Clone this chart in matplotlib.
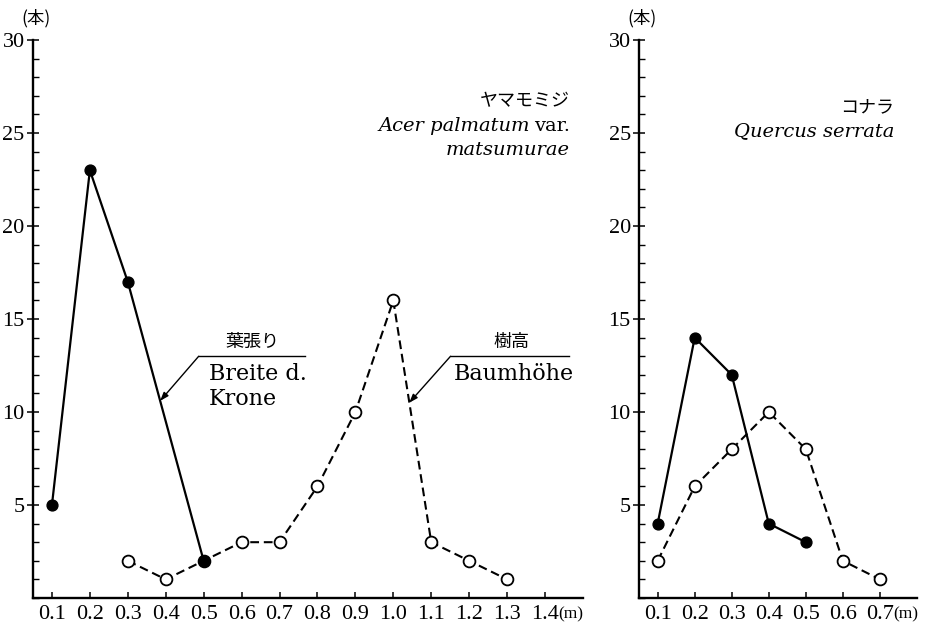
import matplotlib
matplotlib.use("Agg")
import matplotlib.pyplot as plt
from matplotlib.ticker import MultipleLocator

# ヤマモミジ (Acer palmatum var. matsumurae)
acer_crown_x = [0.1, 0.2, 0.3, 0.5]
acer_crown_n = [5, 23, 17, 2]
acer_height_x = [0.3, 0.4, 0.5, 0.6, 0.7, 0.8, 0.9, 1.0, 1.1, 1.2, 1.3]
acer_height_n = [2, 1, 2, 3, 3, 6, 10, 16, 3, 2, 1]

# コナラ (Quercus serrata)
quercus_crown_x = [0.1, 0.2, 0.3, 0.4, 0.5]
quercus_crown_n = [4, 14, 12, 4, 3]
quercus_height_x = [0.1, 0.2, 0.3, 0.4, 0.5, 0.6, 0.7]
quercus_height_n = [2, 6, 8, 10, 8, 2, 1]

acer_ticks = [0.1, 0.2, 0.3, 0.4, 0.5, 0.6, 0.7, 0.8, 0.9, 1.0, 1.1, 1.2, 1.3, 1.4]
acer_tick_labels = ["0.1", "0.2", "0.3", "0.4", "0.5", "0.6", "0.7",
                    "0.8", "0.9", "1.0", "1.1", "1.2", "1.3", "1.4"]
quercus_ticks = [0.1, 0.2, 0.3, 0.4, 0.5, 0.6, 0.7]
quercus_tick_labels = ["0.1", "0.2", "0.3", "0.4", "0.5", "0.6", "0.7"]
y_ticks = [5, 10, 15, 20, 25, 30]
y_tick_labels = ["5", "10", "15", "20", "25", "30"]

NUM = "Liberation Serif"
LAT = "DejaVu Serif"
JP = ["Noto Sans CJK JP", "DejaVu Sans"]

fig = plt.figure(figsize=(9.29, 6.34), dpi=100)
fig.patch.set_facecolor("white")
ax1 = fig.add_axes([0.0355, 0.0568, 0.592, 0.880])
ax2 = fig.add_axes([0.688, 0.0568, 0.299, 0.880])


def style(ax, xmax, ticks, tick_labels):
    ax.set_xlim(0.05, xmax)
    ax.set_ylim(0, 30)
    for s in ("top", "right"):
        ax.spines[s].set_visible(False)
    for s in ("left", "bottom"):
        ax.spines[s].set_linewidth(1.7)
    ax.set_xticks(ticks)
    ax.set_xticklabels(tick_labels, fontfamily=NUM, fontsize=16)
    ax.set_yticks(y_ticks)
    ax.set_yticklabels(y_tick_labels, fontfamily=NUM, fontsize=16)
    ax.yaxis.set_minor_locator(MultipleLocator(1))
    ax.tick_params(axis="x", direction="in", length=4, width=1.1, pad=5)
    ax.tick_params(axis="y", which="major", direction="inout", length=8,
                   width=1.1, pad=2)
    ax.tick_params(axis="y", which="minor", direction="in", length=4, width=1.0)
    # unit labels
    ax.annotate("(本)", xy=(0, 1), xycoords="axes fraction",
                xytext=(2, 16), textcoords="offset points",
                ha="center", va="center", fontsize=12.5, family=JP)
    ax.annotate("(m)", xy=(ticks[-1], 0), xycoords="data",
                xytext=(9.5, -15), textcoords="offset points",
                ha="left", va="baseline", fontsize=12.5, family=NUM,
                annotation_clip=False)


def series(ax, hx, hn, cx, cn):
    ax.plot(hx, hn, color="black", lw=1.5, ls=(0, (4.2, 2.3)),
            marker="o", ms=8.5, mfc="white", mec="black", mew=1.3,
            clip_on=False, zorder=3)
    ax.plot(cx, cn, color="black", lw=1.6, ls="-",
            marker="o", ms=7.8, mfc="black", mec="black", mew=1.0,
            clip_on=False, zorder=4)


style(ax1, 1.5, acer_ticks, acer_tick_labels)
style(ax2, 0.8, quercus_ticks, quercus_tick_labels)
series(ax1, acer_height_x, acer_height_n, acer_crown_x, acer_crown_n)
series(ax2, quercus_height_x, quercus_height_n, quercus_crown_x, quercus_crown_n)

# species names
ax1.text(1.466, 26.7, "ヤマモミジ", ha="right", va="center", fontsize=13, family=JP)
var_txt = ax1.text(1.466, 25.4, "var.", ha="right", va="center",
                   fontsize=14, family=LAT)
renderer = fig.canvas.get_renderer()
w = var_txt.get_window_extent(renderer=renderer).width * 72 / fig.dpi
ax1.annotate("Acer palmatum", xy=(1.466, 25.4), xycoords="data",
             xytext=(-w - 3, 0), textcoords="offset points",
             ha="right", va="center", fontsize=14, family=LAT, style="italic")
ax1.text(1.466, 24.1, "matsumurae", ha="right", va="center",
         fontsize=14, family=LAT, style="italic")

ax2.text(0.739, 26.4, "コナラ", ha="right", va="center", fontsize=13, family=JP)
ax2.text(0.739, 25.1, "Quercus serrata", ha="right", va="center",
         fontsize=14, family=LAT, style="italic")

# leader labels for the two series
arrow = dict(arrowstyle="-|>,head_length=0.5,head_width=0.18", lw=1.0,
             color="black", shrinkA=0, shrinkB=0)

ax1.plot([0.487, 0.768], [13.0, 13.0], color="black", lw=1.0)
ax1.annotate("", xy=(0.3853, 10.6), xytext=(0.487, 13.0), arrowprops=arrow)
ax1.text(0.629, 13.75, "葉張り", ha="center", va="center", fontsize=13, family=JP)
ax1.text(0.514, 12.05, "Breite d.", ha="left", va="center", fontsize=16, family=LAT)
ax1.text(0.514, 10.7, "Krone", ha="left", va="center", fontsize=16, family=LAT)

ax1.plot([1.151, 1.463], [13.0, 13.0], color="black", lw=1.0)
ax1.annotate("", xy=(1.042, 10.5), xytext=(1.151, 13.0), arrowprops=arrow)
ax1.text(1.311, 13.75, "樹高", ha="center", va="center", fontsize=13, family=JP)
ax1.text(1.159, 12.05, "Baumhöhe", ha="left", va="center", fontsize=16, family=LAT)

fig.savefig("out.png", dpi=100, facecolor="white")
